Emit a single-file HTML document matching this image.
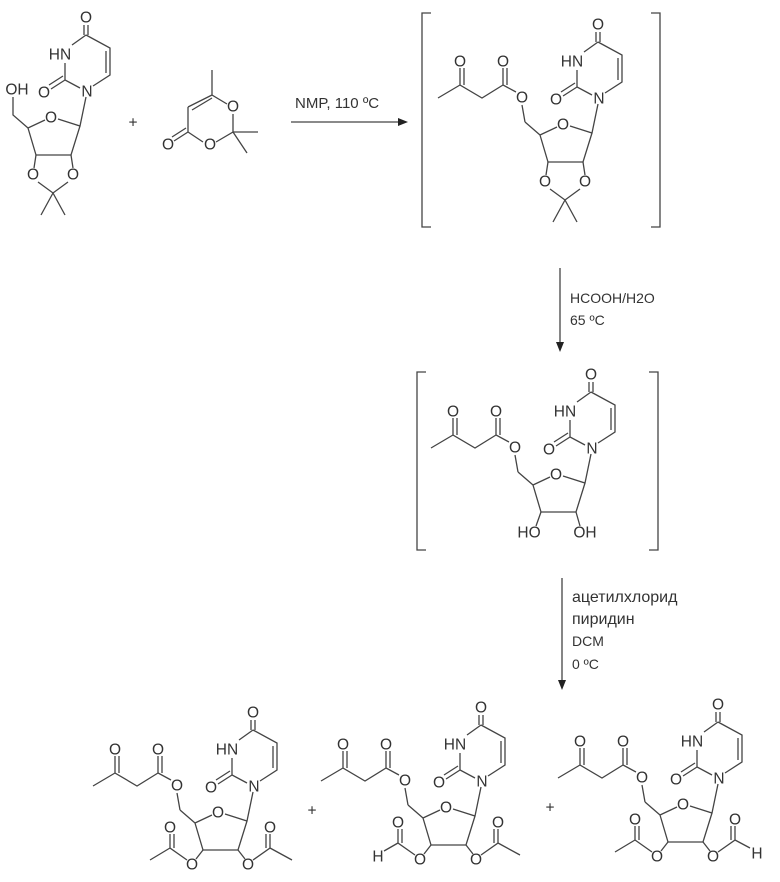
<!DOCTYPE html>
<html><head><meta charset="utf-8"><style>
html,body{margin:0;padding:0;background:#fff}
svg{display:block}
.b{fill:none;stroke:#444;stroke-width:1.3}
text{font-family:"Liberation Sans",sans-serif;fill:#333}
.a{font-size:15.5px;text-anchor:middle;dominant-baseline:central}
.c{font-size:14px}
</style></head><body>
<svg width="780" height="882" viewBox="0 0 780 882" xmlns="http://www.w3.org/2000/svg">

<!-- Reactant 1 -->
<g transform="translate(-512,-7)">
<path class="b" d="M598,42 L584,52 M598,42 L622,55 L622,82 L605,93 M618,58 L618,80 M592,95 L577,87 L577,70 M577,87 L563,96 M575,83 L561,92 M596,42 L596,32 M600,42 L600,32 M598,104 L592,133 L570,126 M557,127 L540,135 L548,162 L583,162 L592,133 M540,135 L525,122 L525,104"/>
<path class="b" d="M548,162 L546,175 M583,162 L585,175 M550,189 L565,200 L580,189 M565,200 L553,222 M565,200 L577,222"/>
<text class="a" x="598" y="25">O</text><text class="a" x="572" y="62">HN</text><text class="a" x="599" y="99">N</text><text class="a" x="556" y="100">O</text><text class="a" x="563" y="125">O</text>
<text class="a" x="529" y="97">OH</text><text class="a" x="545" y="182">O</text><text class="a" x="585" y="182">O</text>
</g>
<text class="a" x="133" y="123">+</text>
<!-- Dioxinone -->
<path class="b" d="M212,70 L212,95 L227,104 M212,95 L188,107 M188,107 L188,132 M192,110 L212,98 M188,132 L203,142 M188,132 L174,141 M186,128 L172,137 M216,142 L233,132 L233,114 M233,132 L258,132 M233,132 L247,153"/>
<text class="a" x="233" y="107">O</text><text class="a" x="210" y="145">O</text><text class="a" x="168" y="145">O</text>

<!-- Arrow 1 -->
<path class="b" d="M291,122 L400,122"/><path d="M408,122 L398,118 L398,126 Z" fill="#222"/>
<text x="295" y="108" style="font-size:15px">NMP, 110 ºC</text>

<!-- Intermediate 1 -->
<path class="b" d="M431,13 L422,13 L422,227 L431,227 M651,13 L660,13 L660,227 L651,227"/>
<g>
<path class="b" d="M598,42 L584,52 M598,42 L622,55 L622,82 L605,93 M618,58 L618,80 M592,95 L577,87 L577,70 M577,87 L563,96 M575,83 L561,92 M596,42 L596,32 M600,42 L600,32 M598,104 L592,133 L570,126 M557,127 L540,135 L548,162 L583,162 L592,133 M540,135 L525,122"/>
<path class="b" d="M525,122 L522,105 M516,92 L503,85 L503,68 M507,85 L507,68 M503,85 L482,98 L460,85 L460,68 M464,85 L464,68 M460,85 L438,98"/>
<path class="b" d="M548,162 L546,175 M583,162 L585,175 M550,189 L565,200 L580,189 M565,200 L553,222 M565,200 L577,222"/>
<text class="a" x="598" y="25">O</text><text class="a" x="572" y="62">HN</text><text class="a" x="599" y="99">N</text><text class="a" x="556" y="100">O</text><text class="a" x="563" y="125">O</text>
<text class="a" x="522" y="98">O</text><text class="a" x="503" y="62">O</text><text class="a" x="460" y="62">O</text>
<text class="a" x="545" y="182">O</text><text class="a" x="585" y="182">O</text>
</g>

<!-- Arrow 2 -->
<path class="b" d="M560,268 L560,344"/><path d="M560,352 L556,342 L564,342 Z" fill="#222"/>
<text class="c" x="570" y="303">HCOOH/H2O</text>
<text class="c" x="570" y="325">65 ºC</text>

<!-- Intermediate 2 -->
<path class="b" d="M426,372 L417,372 L417,550 L426,550 M649,372 L658,372 L658,550 L649,550"/>
<g transform="translate(-7,350)">
<path class="b" d="M598,42 L584,52 M598,42 L622,55 L622,82 L605,93 M618,58 L618,80 M592,95 L577,87 L577,70 M577,87 L563,96 M575,83 L561,92 M596,42 L596,32 M600,42 L600,32 M598,104 L592,133 L570,126 M557,127 L540,135 L548,162 L583,162 L592,133 M540,135 L525,122"/>
<path class="b" d="M525,122 L522,105 M516,92 L503,85 L503,68 M507,85 L507,68 M503,85 L482,98 L460,85 L460,68 M464,85 L464,68 M460,85 L438,98"/>
<path class="b" d="M548,162 L543,176 M583,162 L587,176"/>
<text class="a" x="598" y="25">O</text><text class="a" x="572" y="62">HN</text><text class="a" x="599" y="99">N</text><text class="a" x="556" y="100">O</text><text class="a" x="563" y="125">O</text>
<text class="a" x="522" y="98">O</text><text class="a" x="503" y="62">O</text><text class="a" x="460" y="62">O</text>
<text class="a" x="536" y="183">HO</text><text class="a" x="592" y="183">OH</text>
</g>

<!-- Arrow 3 -->
<path class="b" d="M562,578 L562,682"/><path d="M562,690 L558,680 L566,680 Z" fill="#222"/>
<text x="572" y="602" style="font-size:16px">ацетилхлорид</text>
<text x="572" y="624" style="font-size:16px">пиридин</text>
<text class="c" x="572" y="646">DCM</text>
<text class="c" x="572" y="669">0 ºC</text>

<!-- Product 1 -->
<g transform="translate(-345,688)">
<path class="b" d="M598,42 L584,52 M598,42 L622,55 L622,82 L605,93 M618,58 L618,80 M592,95 L577,87 L577,70 M577,87 L563,96 M575,83 L561,92 M596,42 L596,32 M600,42 L600,32 M598,104 L592,133 L570,126 M557,127 L540,135 L548,162 L583,162 L592,133 M540,135 L525,122"/>
<path class="b" d="M525,122 L522,105 M516,92 L503,85 L503,68 M507,85 L507,68 M503,85 L482,98 L460,85 L460,68 M464,85 L464,68 M460,85 L438,98"/>
<path class="b" d="M548,162 L541,171 M532,172 L515,160 L515,146 M519,160 L519,146 M515,160 L495,172"/>
<path class="b" d="M583,162 L590,171 M598,172 L615,160 L615,146 M611,160 L611,146 M615,160 L637,172"/>
<text class="a" x="598" y="25">O</text><text class="a" x="572" y="62">HN</text><text class="a" x="599" y="99">N</text><text class="a" x="556" y="100">O</text><text class="a" x="563" y="125">O</text>
<text class="a" x="522" y="98">O</text><text class="a" x="503" y="62">O</text><text class="a" x="460" y="62">O</text>
<text class="a" x="537" y="177">O</text><text class="a" x="515" y="140">O</text><text class="a" x="593" y="177">O</text><text class="a" x="615" y="140">O</text>
</g>
<text class="a" x="312" y="811">+</text>

<!-- Product 2 -->
<g transform="translate(-117,683)">
<path class="b" d="M598,42 L584,52 M598,42 L622,55 L622,82 L605,93 M618,58 L618,80 M592,95 L577,87 L577,70 M577,87 L563,96 M575,83 L561,92 M596,42 L596,32 M600,42 L600,32 M598,104 L592,133 L570,126 M557,127 L540,135 L548,162 L583,162 L592,133 M540,135 L525,122"/>
<path class="b" d="M525,122 L522,105 M516,92 L503,85 L503,68 M507,85 L507,68 M503,85 L482,98 L460,85 L460,68 M464,85 L464,68 M460,85 L438,98"/>
<path class="b" d="M548,162 L541,171 M532,172 L515,160 L515,146 M519,160 L519,146 M515,160 L501,168"/>
<path class="b" d="M583,162 L590,171 M598,172 L615,160 L615,146 M611,160 L611,146 M615,160 L637,172"/>
<text class="a" x="598" y="25">O</text><text class="a" x="572" y="62">HN</text><text class="a" x="599" y="99">N</text><text class="a" x="556" y="100">O</text><text class="a" x="563" y="125">O</text>
<text class="a" x="522" y="98">O</text><text class="a" x="503" y="62">O</text><text class="a" x="460" y="62">O</text>
<text class="a" x="537" y="177">O</text><text class="a" x="515" y="140">O</text><text class="a" x="593" y="177">O</text><text class="a" x="615" y="140">O</text>
<text class="a" x="495" y="174">H</text>
</g>
<text class="a" x="550" y="808">+</text>

<!-- Product 3 -->
<g transform="translate(120,680)">
<path class="b" d="M598,42 L584,52 M598,42 L622,55 L622,82 L605,93 M618,58 L618,80 M592,95 L577,87 L577,70 M577,87 L563,96 M575,83 L561,92 M596,42 L596,32 M600,42 L600,32 M598,104 L592,133 L570,126 M557,127 L540,135 L548,162 L583,162 L592,133 M540,135 L525,122"/>
<path class="b" d="M525,122 L522,105 M516,92 L503,85 L503,68 M507,85 L507,68 M503,85 L482,98 L460,85 L460,68 M464,85 L464,68 M460,85 L438,98"/>
<path class="b" d="M548,162 L541,171 M532,172 L515,160 L515,146 M519,160 L519,146 M515,160 L495,172"/>
<path class="b" d="M583,162 L590,171 M598,172 L615,160 L615,146 M611,160 L611,146 M615,160 L630,168"/>
<text class="a" x="598" y="25">O</text><text class="a" x="572" y="62">HN</text><text class="a" x="599" y="99">N</text><text class="a" x="556" y="100">O</text><text class="a" x="563" y="125">O</text>
<text class="a" x="522" y="98">O</text><text class="a" x="503" y="62">O</text><text class="a" x="460" y="62">O</text>
<text class="a" x="537" y="177">O</text><text class="a" x="515" y="140">O</text><text class="a" x="593" y="177">O</text><text class="a" x="615" y="140">O</text>
<text class="a" x="637" y="174">H</text>
</g>

</svg>
</body></html>
